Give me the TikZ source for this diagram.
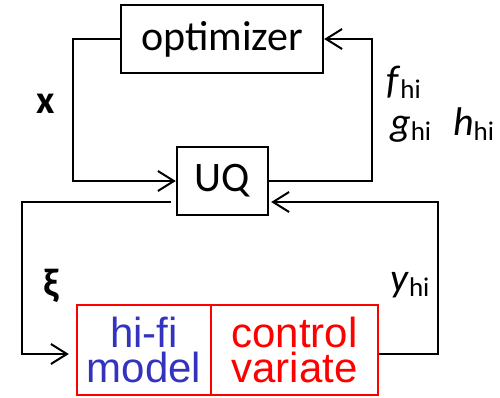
\documentclass[tikz,border=0pt]{standalone}
\usepackage{fontspec}
\setmainfont{Carlito}
\newfontfamily\arialf{Liberation Sans}
\usetikzlibrary{arrows.meta}
\definecolor{hiblue}{RGB}{51,51,190}
\definecolor{cvred}{RGB}{255,0,0}
\newcommand{\lbsub}[1]{\raisebox{-0.14em}{\fontsize{27}{27}\selectfont #1}}
\tikzset{
  blk/.style={draw=black, line width=2.4pt, inner sep=0pt, font=\fontsize{42}{42}\selectfont},
  redblk/.style={draw=cvred, line width=2.4pt, inner sep=0pt, align=center, font=\arialf\fontsize{42}{35}\selectfont},
  conn/.style={line width=2.4pt},
  tip/.style={-{Straight Barb[length=16pt,width=20pt,line width=2pt]}},
  lbl/.style={inner sep=0pt, font=\fontsize{40}{40}\selectfont}
}
\begin{document}
\begin{tikzpicture}[x=1pt,y=-1pt]
\useasboundingbox (0,0) rectangle (500,397);
\node[blk, minimum width=202pt, minimum height=68pt] (opt) at (222,39) {optimizer};
\node[blk, minimum width=91pt, minimum height=68pt] (uq) at (222.5,181) {UQ};
\node[redblk, minimum width=134pt, minimum height=90pt] (hifi) at (144,350) {\textcolor{hiblue}{hi-fi}\\\textcolor{hiblue}{model}};
\node[redblk, minimum width=167pt, minimum height=90pt] (cv) at (294.5,350) {\textcolor{cvred}{control}\\\textcolor{cvred}{variate}};
\coordinate (xa) at (73,39);
\coordinate (ra) at (372,39);
\coordinate (bl) at (22,202);
\coordinate (br) at (438,202);
% x loop
\draw[conn, tip] (opt.west) -- (xa) |- (uq.west);
% right loop
\draw[conn, tip] (uq.east) -| (ra) -- (opt.east);
% xi loop
\draw[conn, tip, shorten >=7pt] ([shift={(-5,21)}]uq.west) -- (bl) |- ([shift={(0,4)}]hifi.west);
% y loop
\draw[conn, tip, shorten >=2pt] ([shift={(0,4)}]cv.east) -| (br) -- ([shift={(0,21)}]uq.east);
% labels
\node[lbl, anchor=base] (xl) at (46,113) {\textbf{x}};
\node[lbl, anchor=base] (xil) at (51,296) {\textbf{ξ}};
\node[lbl, anchor=base west] (fl) at (386,93) {\textit{f}\lbsub{hi}};
\node[lbl, anchor=base west] (gl) at (390,135) {\textit{g}\lbsub{hi}\hspace{22pt}\textit{h}\lbsub{hi}};
\node[lbl, anchor=base west] (yl) at (390,291) {\textit{y}\lbsub{hi}};
\end{tikzpicture}
\end{document}
